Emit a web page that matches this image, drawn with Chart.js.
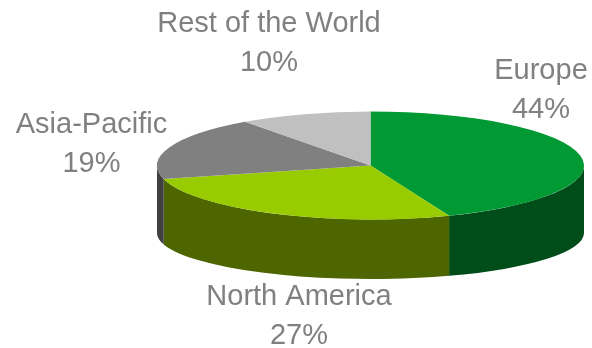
<!DOCTYPE html>
<html><head><meta charset="utf-8">
<script src="https://cdn.jsdelivr.net/npm/chart.js@4"></script>
<style>html,body{margin:0;padding:0;background:#fff;overflow:hidden}canvas{display:block}</style>
</head><body>
<canvas id="c" width="592" height="348"></canvas>
<script>
// ---- data ----
const categories = ['Europe', 'North America', 'Asia-Pacific', 'Rest of the World'];
const shares = [44, 27, 19, 10];
const percentLabels = ['44%', '27%', '19%', '10%'];

// ---- styles ----
const topColors = ['#009933', '#99cc00', '#808080', '#c0c0c0'];
const sideColors = ['#004d1a', '#4d6600', '#404040', '#606060'];
const textColor = '#808080';
const G = { cx: 370.5, rx: 213.5, cyTop: 165.5, ryTop: 54, cyBot: 233, ryBot: 46 };
const labelPos = [[541, 79], [299, 305], [91.5, 133], [269, 32]];
const lineGap = 39;

const pie3d = {
  id: 'pie3d',
  beforeDatasetsDraw(chart) {
    const ctx = chart.ctx;
    const arcs = chart.getDatasetMeta(0).data;
    arcs.forEach((arc, i) => {
      const a0 = Math.max(arc.startAngle, 0);
      const a1 = Math.min(arc.endAngle, Math.PI);
      if (a1 <= a0) return;
      ctx.beginPath();
      ctx.ellipse(G.cx, G.cyTop, G.rx, G.ryTop, 0, a0, a1, false);
      ctx.ellipse(G.cx, G.cyBot, G.rx, G.ryBot, 0, a1, a0, true);
      ctx.closePath();
      ctx.fillStyle = sideColors[i];
      ctx.fill();
    });
    const a = arcs[0];
    ctx.save();
    ctx.translate(G.cx, G.cyTop);
    ctx.scale(G.rx / a.outerRadius, G.ryTop / a.outerRadius);
    ctx.translate(-a.x, -a.y);
  },
  afterDatasetsDraw(chart) {
    chart.ctx.restore();
  },
  afterDraw(chart) {
    const ctx = chart.ctx;
    ctx.save();
    ctx.fillStyle = textColor;
    ctx.font = '29px "Liberation Sans", Arial, sans-serif';
    ctx.textAlign = 'center';
    ctx.textBaseline = 'alphabetic';
    categories.forEach((c, i) => {
      const [x, y] = labelPos[i];
      ctx.fillText(c, x, y);
      ctx.fillText(percentLabels[i], x, y + lineGap);
    });
    ctx.restore();
  }
};

new Chart(document.getElementById('c'), {
  type: 'pie',
  data: {
    labels: categories,
    datasets: [{
      data: shares,
      backgroundColor: topColors,
      borderWidth: 0,
      clip: false
    }]
  },
  options: {
    responsive: false,
    animation: false,
    events: [],
    plugins: { legend: { display: false }, tooltip: { enabled: false } }
  },
  plugins: [pie3d]
});
</script>
</body></html>
